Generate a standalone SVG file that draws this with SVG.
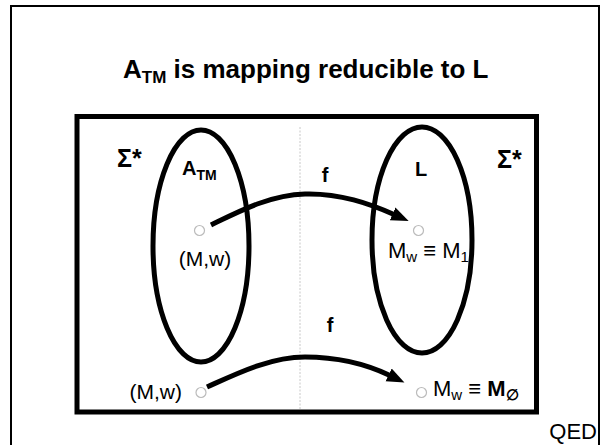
<svg xmlns="http://www.w3.org/2000/svg" width="602" height="445" viewBox="0 0 602 445">
<defs>
<style>
.b{font-family:"Liberation Sans",Arial,sans-serif;font-weight:bold;fill:#000}
.r{font-family:"Liberation Sans",Arial,sans-serif;fill:#000}
.set{fill:none;stroke:#000;stroke-width:5}
.pt{fill:#fff;stroke:#bbb;stroke-width:1.2}
.arr{fill:none;stroke:#000;stroke-width:5}
</style>
<marker id="ah" markerWidth="5" markerHeight="5" refX="0.3" refY="2.5" orient="auto" markerUnits="strokeWidth" viewBox="0 0 5 5">
<path d="M0,1.1 L3.5,2.5 L0,3.9 Z" fill="#000"/>
</marker>
</defs>
<rect id="frame" x="11" y="6" width="588" height="445" fill="#fff" stroke="#000" stroke-width="2"/>
<text id="title" class="b" x="123" y="78" font-size="26">A<tspan font-size="17" dy="5">TM</tspan><tspan dy="-5"> is mapping reducible to L</tspan></text>
<g id="universe">
<rect x="77" y="116.5" width="459.5" height="295.5" fill="none" stroke="#000" stroke-width="5"/>
<line x1="300" y1="127" x2="300" y2="410" stroke="#c8c8c8" stroke-width="1" stroke-dasharray="2,1.5"/>
<text class="b" x="117" y="167" font-size="25">Σ*</text>
<text class="b" x="497" y="168" font-size="25">Σ*</text>
</g>
<g id="ATM">
<ellipse class="set" cx="201" cy="246" rx="48" ry="116"/>
<text class="b" x="182" y="175" font-size="20">A<tspan font-size="14" dy="5">TM</tspan></text>
</g>
<g id="L">
<ellipse class="set" cx="422" cy="240" rx="50" ry="113"/>
<text class="b" x="415" y="176" font-size="20">L</text>
</g>
<g id="p1">
<circle class="pt" cx="199.5" cy="230.5" r="5"/>
<text class="r" x="205" y="266" font-size="21" text-anchor="middle">(M,w)</text>
</g>
<g id="q1">
<circle class="pt" cx="418.5" cy="230.5" r="5"/>
<text class="r" x="388" y="258" font-size="22">M<tspan font-size="15" dy="4">w</tspan><tspan font-size="22" dy="-4"> ≡ M</tspan><tspan font-size="15" dy="4">1</tspan></text>
</g>
<g id="p2">
<circle class="pt" cx="201" cy="392.5" r="5"/>
<text class="r" x="182" y="399" font-size="21" text-anchor="end">(M,w)</text>
</g>
<g id="q2">
<circle class="pt" cx="421.5" cy="392.5" r="5"/>
<text class="r" x="433" y="396" font-size="22">M<tspan font-size="15" dy="4">w</tspan><tspan dy="-4"> ≡ </tspan><tspan class="b">M</tspan><tspan class="b" font-size="15" dy="4">∅</tspan></text>
</g>
<g id="connectors">
<path class="arr" d="M211,225 C240,211 270,195 305,194 C340,193 370,204 394,214.5" marker-end="url(#ah)"/>
<path class="arr" d="M207,387 C236,374 270,357 305,357 C340,357 366,364 390,375.5" marker-end="url(#ah)"/>
<text class="b" x="325" y="182" font-size="20" text-anchor="middle">f</text>
<text class="b" x="330" y="332" font-size="20" text-anchor="middle">f</text>
</g>
<text id="qed" class="r" x="597" y="439" font-size="22" text-anchor="end">QED</text>
</svg>
